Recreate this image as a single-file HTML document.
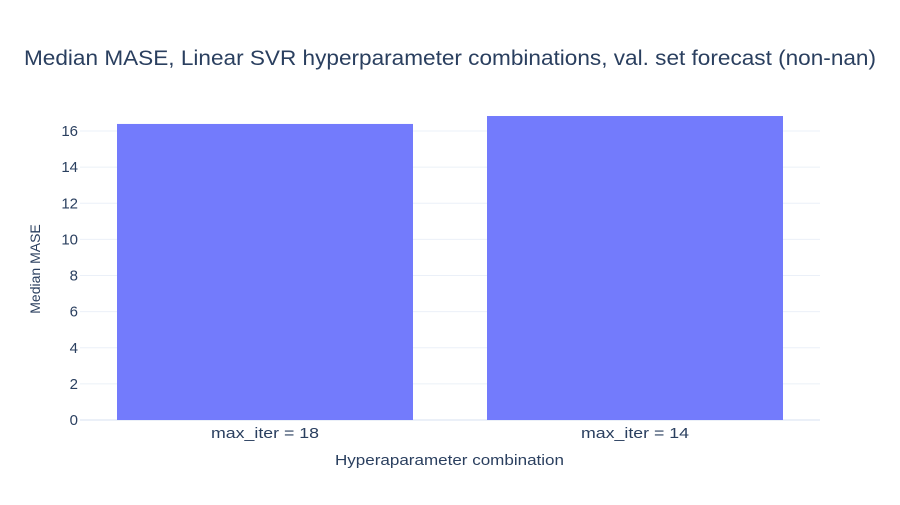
<!DOCTYPE html>
<html><head><meta charset="utf-8"><style>
body{margin:0;background:#fff;font-family:"Liberation Sans",Arial,sans-serif;}
svg text{font-family:"Liberation Sans",Arial,sans-serif;fill:#2a3f5f;}
</style></head><body>
<svg id="chart" width="900" height="500">
<text x="24" y="65" font-size="21" textLength="852" lengthAdjust="spacingAndGlyphs">Median MASE, Linear SVR hyperparameter combinations, val. set forecast (non-nan)</text>
<g id="grid"></g><g id="bars"></g><g id="xt"></g><g id="yt"></g>
<text x="335" y="465" font-size="15" textLength="229" lengthAdjust="spacingAndGlyphs">Hyperaparameter combination</text>
<text transform="translate(40,269) rotate(-90)" text-anchor="middle" font-size="14">Median MASE</text>
</svg>
<script>
const categories=["max_iter = 18","max_iter = 14"];
const values=[16.39,16.83];
const yTicks=[0,2,4,6,8,10,12,14,16];
const NS="http://www.w3.org/2000/svg";
const L=80,R=820,B=420,unit=(420-131)/16;
const y=v=>B-v*unit;
const bw=(R-L)/categories.length;
function mk(t,a,p){const e=document.createElementNS(NS,t);for(const k in a)e.setAttribute(k,a[k]);document.getElementById(p).appendChild(e);return e;}
yTicks.forEach(t=>{
 const g=mk('line',{x1:L,x2:R,y1:y(t),y2:y(t),stroke:'#ebf0f8','stroke-width':t===0?2:1},'grid');
 
 
 const tx=mk('text',{x:L-2,y:y(t)+5,'text-anchor':'end','font-size':15},'yt');tx.textContent=t;
 
 
});
categories.forEach((c,i)=>{
 const cx=L+bw*(i+0.5),w=bw*0.8;
 const r=mk('rect',{x:cx-w/2,y:y(values[i]),width:w,height:B-y(values[i]),fill:'#737bfc'},'bars');
 
 
 const tx=mk('text',{x:cx-54,y:438,'font-size':15,textLength:108,lengthAdjust:'spacingAndGlyphs'},'xt');tx.textContent=c;
 
 
});
</script></body></html>
